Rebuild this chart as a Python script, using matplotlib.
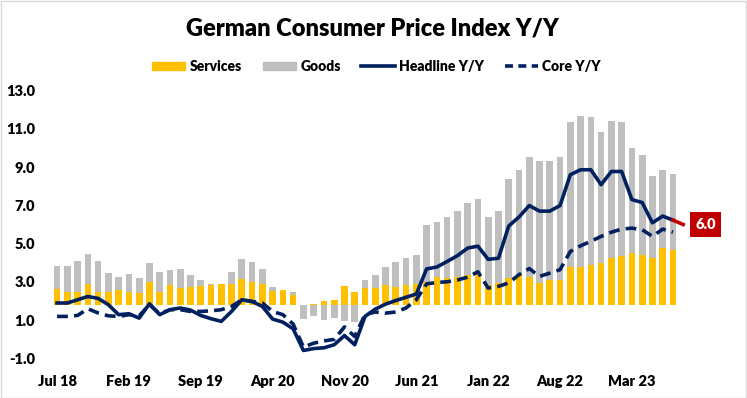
import numpy as np
import pandas as pd
import matplotlib
matplotlib.use("Agg")
import matplotlib.pyplot as plt
from matplotlib.patches import Patch, Rectangle
from matplotlib.lines import Line2D

plt.rcParams['font.family'] = ['Lato', 'DejaVu Sans']
plt.rcParams['font.weight'] = 'heavy'

# monthly, Jul 2018 .. Aug 2023 (Aug 23 = flash headline only)
months = pd.date_range('2018-07-01', '2023-08-01', freq='MS')

# contributions to headline (pp), drawn as stacked bars
services = [0.84, 0.73, 0.73, 1.11, 0.70, 0.73, 0.82, 0.73, 0.64, 1.24,
            0.68, 1.06, 0.91, 0.94, 1.04, 1.05, 1.11, 1.11, 1.36, 1.25,
            1.13, 0.75, 0.82, 0.54, 0.00, 0.06, 0.25, 0.30, 1.04, 0.68,
            0.93, 0.93, 1.06, 0.96, 1.08, 1.13, 1.25, 1.48, 1.43, 1.51,
            1.57, 1.65, 1.08, 1.17, 1.43, 1.60, 1.51, 1.17, 1.34, 1.34,
            2.00, 2.00, 2.09, 2.21, 2.47, 2.61, 2.73, 2.65, 2.47, 2.99,
            2.91]
goods = [1.23, 1.34, 1.58, 1.57, 1.61, 0.96, 0.66, 0.92, 0.79, 0.99,
         1.06, 0.80, 0.99, 0.66, 0.30, 0.08, 0.02, 0.65, 1.08, 1.03,
         0.77, 0.22, 0.00, 0.17, -0.68, -0.57, -0.78, -0.67, -0.83, -0.88,
         0.41, 0.67, 0.96, 1.30, 1.39, 1.52, 2.96, 2.87, 3.18, 3.43,
         3.77, 3.92, 3.53, 3.77, 5.18, 5.48, 6.24, 6.39, 6.22, 6.41,
         7.57, 7.92, 7.78, 6.84, 7.17, 6.96, 5.49, 5.22, 4.32, 4.09,
         3.96]

headline = [1.90, 1.90, 2.07, 2.24, 2.14, 1.81, 1.29, 1.34, 1.11, 1.86,
            1.29, 1.55, 1.64, 1.53, 1.25, 1.08, 0.94, 1.46, 2.07, 1.98,
            1.72, 1.06, 0.90, 0.55, -0.58, -0.48, -0.44, -0.28, 0.20, -0.28,
            1.20, 1.58, 1.84, 2.03, 2.20, 2.37, 3.68, 3.78, 4.07, 4.37,
            4.77, 4.87, 4.18, 4.24, 5.92, 6.39, 6.99, 6.70, 6.70, 6.99,
            8.60, 8.86, 8.86, 8.08, 8.77, 8.77, 7.30, 7.15, 6.09, 6.44,
            6.23]
flash = 6.0
core = [1.20, 1.20, 1.25, 1.60, 1.38, 1.23, 1.20, 1.29, 1.23, 1.81,
        1.34, 1.55, 1.55, 1.46, 1.46, 1.49, 1.55, 1.72, 2.07, 1.98,
        1.90, 1.46, 1.29, 0.80, -0.40, -0.20, -0.08, 0.00, 0.65, 0.15,
        1.30, 1.43, 1.37, 1.43, 1.64, 2.07, 2.90, 2.97, 3.01, 3.10,
        3.25, 3.53, 2.68, 2.77, 2.95, 3.38, 3.70, 3.29, 3.46, 3.64,
        4.59, 4.89, 5.12, 5.38, 5.60, 5.76, 5.81, 5.73, 5.38, 5.76,
        5.60]

yticks = [-1, 1, 3, 5, 7, 9, 11, 13]
BAR_ZERO = 1.77  # where the bar axis' zero sits on the left scale

YELLOW = '#FFC000'
GREY = '#BFBFBF'
NAVY = '#002060'
RED = '#C00000'

services = np.array(services)
goods = np.array(goods)
x = np.arange(len(services))

fig = plt.figure(figsize=(7.47, 3.98), dpi=100)
ax = fig.add_axes([0.0695, 0.0992, 0.852, 0.6734])
bax = ax.twinx()
ax.set_zorder(bax.get_zorder() + 1)
ax.patch.set_visible(False)

# bars
gbottom = np.where(goods > 0, services, 0)
bax.bar(x, services, width=0.65, color=YELLOW, linewidth=0)
bax.bar(x, goods, bottom=gbottom, width=0.65, color=GREY, linewidth=0)
bax.set_ylim(yticks[0] - BAR_ZERO, yticks[-1] - BAR_ZERO)
bax.axis('off')

# lines
LW = 2.6
ax.plot(x, headline, color=NAVY, lw=LW)
ax.plot([x[-1], x[-1] + 1], [headline[-1], flash], color=RED, lw=LW)
ax.plot(x, core, color=NAVY, lw=LW, dashes=(3.0, 1.7))

ax.annotate(f'{flash:.1f}', xy=(x[-1] + 1, flash), xytext=(16, 0),
            textcoords='offset points', ha='center', va='center',
            color='white', fontsize=10.5,
            bbox=dict(boxstyle='square,pad=0.38', fc=RED, ec='none'),
            annotation_clip=False)

ax.set_xlim(-0.5, len(months) - 0.5)
ax.set_ylim(yticks[0], yticks[-1])
ax.set_yticks(yticks)
ax.set_yticklabels([f'{v:.1f}' for v in yticks])
tick_idx = np.arange(0, len(months), 7)
ax.set_xticks(tick_idx)
ax.set_xticklabels([months[i].strftime('%b %y') for i in tick_idx])
ax.tick_params(length=0, labelsize=10.5)
ax.tick_params(axis='y', pad=12)
ax.tick_params(axis='x', pad=12)
for s in ax.spines.values():
    s.set_visible(False)
for s in bax.spines.values():
    s.set_visible(False)

fig.text(0.4987, 0.912, 'German Consumer Price Index Y/Y', ha='center',
         va='baseline', fontsize=17)

handles = [Patch(color=YELLOW), Patch(color=GREY),
           Line2D([], [], color=NAVY, lw=LW),
           Line2D([], [], color=NAVY, lw=LW, dashes=(2.2, 1.5))]
labels = ['Services', 'Goods', 'Headline Y/Y', 'Core Y/Y']
fig.legend(handles, labels, loc='center', bbox_to_anchor=(0.504, 0.833),
           ncol=4, frameon=False, fontsize=10, handlelength=2.4,
           handleheight=0.6, handletextpad=0.3, columnspacing=1.5)

fig.add_artist(Rectangle((0.001, 0.001), 0.997, 0.997, transform=fig.transFigure,
                         fill=False, ec='#D9D9D9', lw=1))

fig.savefig('out.png', dpi=100)
